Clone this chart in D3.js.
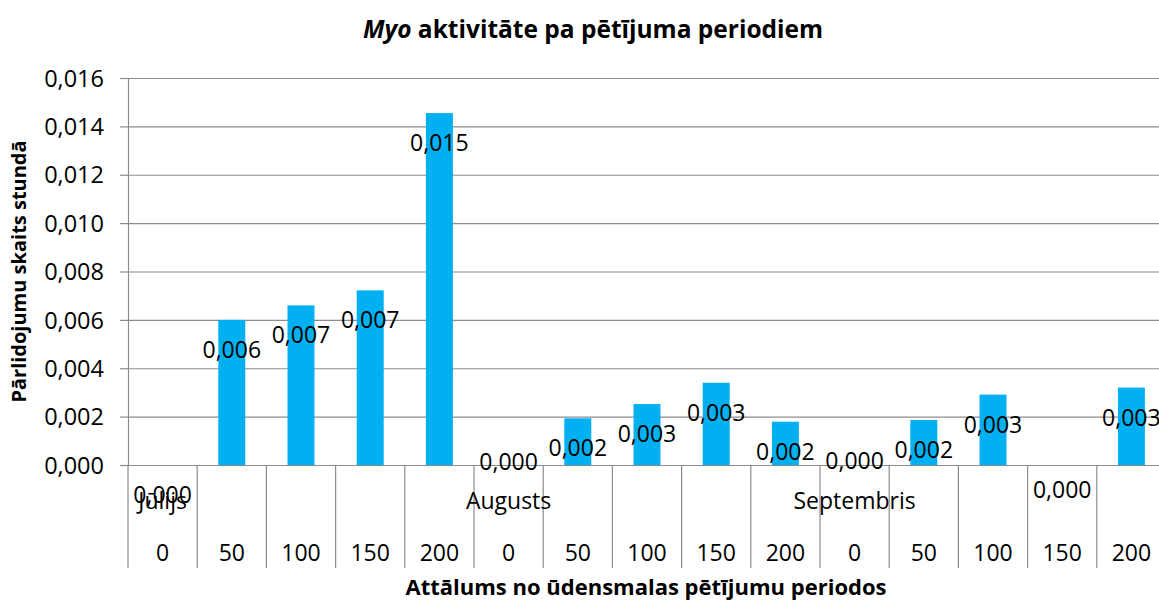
<!DOCTYPE html>
<html>
<head>
<meta charset="utf-8">
<script src="https://cdn.jsdelivr.net/npm/d3@7"></script>
<style>
	body { margin: 0; background: #fff; }
	text { font-family: "Open Sans", "Noto Sans", sans-serif; fill: #000; }
</style>
</head>
<body>
<div id="chart"></div>
<script>

// data
const months = ['Jūlijs', 'Augusts', 'Septembris'];
const distances = ['0', '50', '100', '150', '200'];
const values = [
	0, 0.0060, 0.0066, 0.00722, 0.01455,
	0, 0.00193, 0.00252, 0.0034, 0.00179,
	0, 0.00186, 0.00291, 0, 0.0032
];
const yTicks = [0, 0.002, 0.004, 0.006, 0.008, 0.010, 0.012, 0.014, 0.016];

// some data labels were nudged by hand in the original
const labelShift = { 5: -33, 10: -34, 13: -5 };

const W = 1159, H = 600;
const plot = { left: 128, right: 1166, top: 78, bottom: 465 };
const fmt = v => d3.format('.3f')(v).replace('.', ',');

const cats = [];
months.forEach(m => distances.forEach((d, j) => cats.push({ month: j === 0 ? m : '', dist: d })));

const svg = d3.select('#chart').append('svg')
	.attr('width', W)
	.attr('height', H);

const x = d3.scaleBand()
	.domain(d3.range(cats.length))
	.range([plot.left, plot.right])
	.padding(0);

const y = d3.scaleLinear()
	.domain([0, 0.016])
	.range([plot.bottom, plot.top]);

// gridlines
svg.append('g')
	.attr('transform', `translate(${plot.left},0)`)
	.call(d3.axisLeft(y).tickValues(yTicks).tickSize(-(W - plot.left)).tickFormat(''))
	.call(g => g.select('.domain').remove())
	.call(g => g.selectAll('line').attr('stroke', '#8c8c8c').attr('stroke-width', 1.2));

// y axis with outside ticks
svg.append('g')
	.attr('transform', `translate(${plot.left},0)`)
	.call(d3.axisLeft(y).tickValues(yTicks).tickSize(8).tickPadding(16).tickFormat(fmt))
	.call(g => g.select('.domain').attr('stroke', '#8c8c8c').attr('stroke-width', 1.2))
	.call(g => g.selectAll('line').attr('stroke', '#8c8c8c').attr('stroke-width', 1.2))
	.call(g => g.selectAll('text').style('font-size', '23.5px').attr('dy', '0.35em'));

// bars
const barW = x.bandwidth() * 0.39;
svg.append('g').selectAll('rect')
	.data(values)
	.join('rect')
	.attr('x', (d, i) => x(i) + (x.bandwidth() - barW) / 2)
	.attr('y', d => y(d))
	.attr('width', barW)
	.attr('height', d => y(0) - y(d))
	.attr('fill', '#00b0f0');

// category separators
const seps = d3.range(cats.length + 1).map(i => i < cats.length ? x(i) : plot.right);
svg.append('g').selectAll('line')
	.data(seps)
	.join('line')
	.attr('x1', d => d).attr('x2', d => d)
	.attr('y1', plot.bottom).attr('y2', 568)
	.attr('stroke', '#8c8c8c')
	.attr('stroke-width', 1.2);

// category labels, two rows
const catG = svg.append('g').style('font-size', '23px').attr('text-anchor', 'middle');
catG.selectAll('.dist')
	.data(cats)
	.join('text')
	.attr('class', 'dist')
	.attr('x', (d, i) => x(i) + x.bandwidth() / 2)
	.attr('y', 553)
	.attr('dy', '0.35em')
	.text(d => d.dist);
catG.selectAll('.month')
	.data(cats)
	.join('text')
	.attr('class', 'month')
	.attr('x', (d, i) => x(i) + x.bandwidth() / 2)
	.attr('y', 501)
	.attr('dy', '0.35em')
	.text(d => d.month);

// data labels
svg.append('g').style('font-size', '23px').attr('text-anchor', 'middle')
	.selectAll('text')
	.data(values)
	.join('text')
	.attr('x', (d, i) => x(i) + x.bandwidth() / 2)
	.attr('y', (d, i) => y(d) + 30 + (labelShift[i] || 0))
	.attr('dy', '0.35em')
	.text(d => fmt(d));

// titles
const title = svg.append('text')
	.attr('x', 593)
	.attr('y', 29)
	.attr('dy', '0.35em')
	.attr('text-anchor', 'middle')
	.style('font-size', '24.5px')
	.style('font-weight', 'bold');
title.append('tspan').style('font-style', 'italic').text('Myo');
title.append('tspan').text(' aktivitāte pa pētījuma periodiem');

svg.append('text')
	.attr('x', 646)
	.attr('y', 587)
	.attr('dy', '0.35em')
	.attr('text-anchor', 'middle')
	.style('font-size', '22px')
	.style('font-weight', 'bold')
	.text('Attālums no ūdensmalas pētījumu periodos');

svg.append('text')
	.attr('transform', `translate(19,${(plot.top + plot.bottom) / 2}) rotate(-90)`)
	.attr('dy', '0.35em')
	.attr('text-anchor', 'middle')
	.style('font-size', '20px')
	.style('font-weight', 'bold')
	.text('Pārlidojumu skaits stundā');

</script>
</body>
</html>
